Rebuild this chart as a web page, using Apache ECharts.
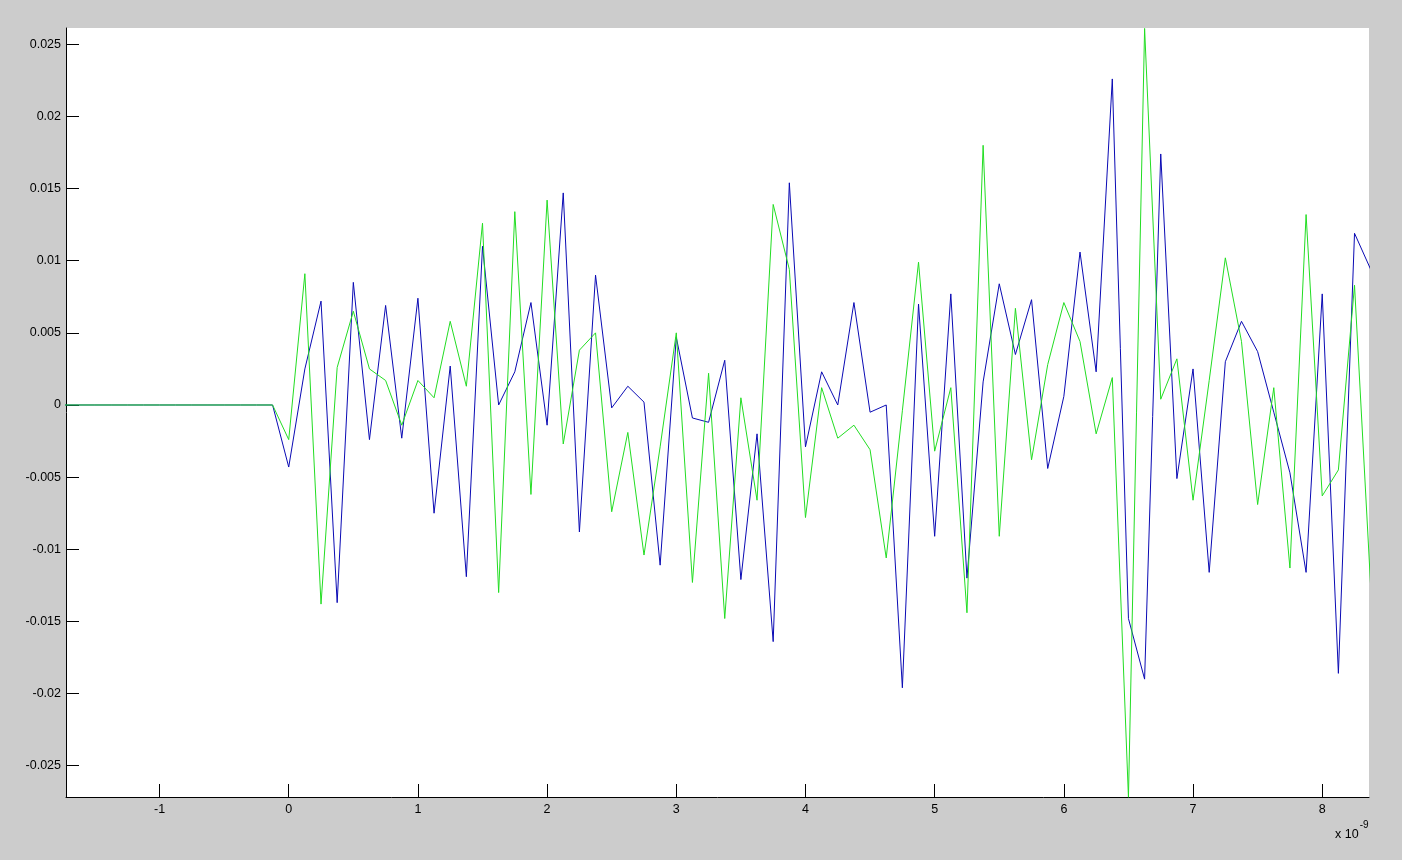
<!DOCTYPE html>
<html>
<head>
<meta charset="utf-8">
<script src="https://cdn.jsdelivr.net/npm/echarts@6/dist/echarts.min.js"></script>
<style>
html,body{margin:0;padding:0;background:#cccccc;}
#chart{width:1402px;height:860px;}
</style>
</head>
<body>
<div id="chart"></div>
<script>
// Sampling grid (ns, axis shown as x 10^-9 s)
const sampleStart = -1.75;
const samplePeriod = 0.125;

// Series values, one per sample starting at sampleStart
const blueValues = [
  0,0,0,0,0,0,0,0,0,0,0,0,0,0,
  -0.0043, 0.0025, 0.0072, -0.0137, 0.0085, -0.0024, 0.0069, -0.0023, 0.0074, -0.0075,
  0.0027, -0.0119, 0.0110, 0.0000, 0.0023, 0.0071, -0.0014, 0.0147, -0.0088, 0.0090,
  -0.0002, 0.0013, 0.0002, -0.0111, 0.0047, -0.0009, -0.0012, 0.0031, -0.0121, -0.0020,
  -0.0164, 0.0154, -0.0029, 0.0023, 0.0000, 0.0071, -0.0005, 0.0000, -0.0196, 0.0070,
  -0.0091, 0.0077, -0.0120, 0.0016, 0.0084, 0.0035, 0.0073, -0.0044, 0.0006, 0.0106,
  0.0023, 0.0226, -0.0148, -0.0190, 0.0174, -0.0051, 0.0025, -0.0116, 0.0030, 0.0058,
  0.0037, -0.0005, -0.0047, -0.0116, 0.0077, -0.0186, 0.0119, 0.0094
];
const greenValues = [
  0,0,0,0,0,0,0,0,0,0,0,0,0,0,
  -0.0024, 0.0091, -0.0138, 0.0026, 0.0065, 0.0025, 0.0017, -0.0014, 0.0017, 0.0005,
  0.0058, 0.0013, 0.0126, -0.0130, 0.0134, -0.0062, 0.0142, -0.0027, 0.0038, 0.0050,
  -0.0074, -0.0019, -0.0104, -0.0029, 0.0050, -0.0123, 0.0022, -0.0148, 0.0005, -0.0066,
  0.0139, 0.0094, -0.0078, 0.0012, -0.0023, -0.0014, -0.0031, -0.0106, -0.0004, 0.0099,
  -0.0032, 0.0012, -0.0144, 0.0180, -0.0091, 0.0067, -0.0038, 0.0028, 0.0071, 0.0044,
  -0.0020, 0.0019, -0.0272, 0.0261, 0.0004, 0.0032, -0.0066, 0.0017, 0.0102, 0.0044,
  -0.0069, 0.0012, -0.0113, 0.0132, -0.0063, -0.0045, 0.0083, -0.0126
];

// Tick labels
const xTicks = [-1, 0, 1, 2, 3, 4, 5, 6, 7, 8];
const yTicks = [-0.025, -0.02, -0.015, -0.01, -0.005, 0, 0.005, 0.01, 0.015, 0.02, 0.025];

// Axis limits (tight to data)
const xMin = -1.724, xMax = 8.362;
const yMin = -0.02717, yMax = 0.02613;

function pairs(vals){
  return vals.map((v, i) => [sampleStart + i * samplePeriod, v]);
}

const font = 'Liberation Sans, Arial, sans-serif';
const chart = echarts.init(document.getElementById('chart'), null, {renderer: 'canvas'});
chart.setOption({
  backgroundColor: '#cccccc',
  animation: false,
  grid: {left: 66, top: 28, width: 1303, height: 769, show: true, backgroundColor: '#ffffff', borderWidth: 0},
  xAxis: {
    type: 'value', min: xMin, max: xMax,
    axisLine: {show: true, onZero: false, lineStyle: {color: '#000000', width: 1}},
    axisTick: {show: true, inside: true, length: 13, customValues: xTicks, lineStyle: {color: '#000000'}},
    axisLabel: {show: true, customValues: xTicks, margin: 6, color: '#000000', fontSize: 12.5, fontFamily: font,
      formatter: v => String(v)},
    splitLine: {show: false}
  },
  yAxis: {
    type: 'value', min: yMin, max: yMax,
    axisLine: {show: true, onZero: false, lineStyle: {color: '#000000', width: 1}},
    axisTick: {show: true, inside: true, length: 13, customValues: yTicks, lineStyle: {color: '#000000'}},
    axisLabel: {show: true, customValues: yTicks, margin: 5, color: '#000000', fontSize: 12.5, fontFamily: font,
      formatter: v => String(+(+v).toFixed(3))},
    splitLine: {show: false}
  },
  graphic: [{
    type: 'text', left: 1335, top: 820,
    style: {
      text: '{a|x 10}{b|-9}',
      rich: {
        a: {fontSize: 12.5, fontFamily: font, fill: '#000000', padding: [8, 0, 0, 0]},
        b: {fontSize: 10, fontFamily: font, fill: '#000000', verticalAlign: 'top', padding: [0, 0, 8, 1]}
      }
    }
  }],
  series: [
    {type: 'line', data: pairs(blueValues), showSymbol: false, clip: true,
      lineStyle: {color: '#0a0ab4', width: 1}, itemStyle: {color: '#0a0ab4'}},
    {type: 'line', data: pairs(greenValues), showSymbol: false, clip: true,
      lineStyle: {color: '#22dd22', width: 1}, itemStyle: {color: '#22dd22'}}
  ]
});
</script>
</body>
</html>
